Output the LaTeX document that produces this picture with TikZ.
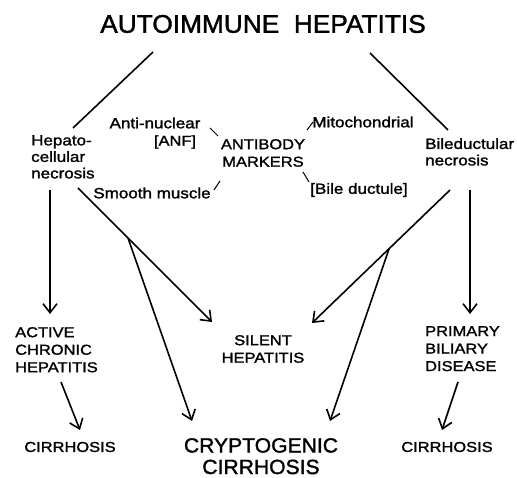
\documentclass[tikz,border=0pt]{standalone}
\usepackage{fontspec}
\setmainfont[FakeStretch=1.15,FakeBold=1.5]{Liberation Sans}
\newfontfamily\bigfont[FakeStretch=1.03,FakeBold=1.5]{Liberation Sans}
\usetikzlibrary{arrows.meta}
\tikzset{
  lbl/.style={font=\fontsize{14.3}{17.5}\selectfont, inner sep=0pt},
  lc/.style={font=\fontsize{14.8}{16.5}\selectfont, inner sep=0pt},
  conn/.style={line width=1.6pt},
  arr/.style={conn, -{Straight Barb[length=9pt,width=14pt,line width=1.6pt]}},
  tickline/.style={line width=1pt}
}
\begin{document}
\begin{tikzpicture}[x=1pt,y=-1pt]
\useasboundingbox (0,0) rectangle (517,478);
% nodes
\node[inner sep=0pt, font=\bigfont\fontsize{25.5}{28}\selectfont] (title) at (263,24) {AUTOIMMUNE\ \ HEPATITIS};
\node[lc, anchor=north west, align=left] (hc) at (31,135) {Hepato-\\cellular\\necrosis};
\node[lc] (ant) at (155,123) {Anti-nuclear};
\node[lbl] (anf) at (175,142) {[ANF]};
\node[lbl, align=center] (ab) at (263,153) {ANTIBODY\\MARKERS};
\node[lc] (mito) at (363,122) {Mitochondrial};
\node[lc] (sm) at (152,193) {Smooth muscle};
\node[lc] (bd) at (359,190) {[Bile ductule]};
\node[lc, anchor=north west, align=left] (bn) at (425,138) {Bileductular\\necrosis};
\node[lbl, anchor=north west, align=left] (ach) at (15,327) {ACTIVE\\CHRONIC\\HEPATITIS};
\node[lbl] (c1) at (70,447) {CIRRHOSIS};
\node[lbl, align=center] (sil) at (263,349) {SILENT\\HEPATITIS};
\node[lbl, anchor=north west, align=left] (pbd) at (425,326) {PRIMARY\\BILIARY\\DISEASE};
\node[lbl] (c2) at (447,447) {CIRRHOSIS};
\node[inner sep=0pt, font=\bigfont\fontsize{20.5}{21.5}\selectfont, align=center, anchor=north] (cc) at (261,438) {CRYPTOGENIC\\CIRRHOSIS};
% coordinates
\coordinate (tL) at (153,52);
\coordinate (hcT) at (73,128);
\coordinate (tR) at (370,53);
\coordinate (bnT) at (448,130);
\coordinate (hcB1) at (50,190);
\coordinate (achT) at (50,314);
\coordinate (hcB2) at (78,188);
\coordinate (silL) at (212,322);
\coordinate (brL) at (128,238);
\coordinate (ccL) at (192,421);
\coordinate (bnB2) at (450,190);
\coordinate (silR) at (312,323);
\coordinate (brR) at (389,249);
\coordinate (ccR) at (330,421);
\coordinate (bnB1) at (470,190);
\coordinate (pbdT) at (470,314);
\coordinate (achB) at (61,382);
\coordinate (c1T) at (80,430);
\coordinate (pbdB) at (458,382);
\coordinate (c2T) at (442,430);
% connectors
\draw[conn] (tL) -- (hcT);
\draw[conn] (tR) -- (bnT);
\draw[arr] (hcB1) -- (achT);
\draw[arr] (hcB2) -- (silL);
\draw[arr] (brL) -- (ccL);
\draw[arr] (bnB2) -- (silR);
\draw[arr] (brR) -- (ccR);
\draw[arr] (bnB1) -- (pbdT);
\draw[arr] (achB) -- (c1T);
\draw[arr] (pbdB) -- (c2T);
% ticks
\coordinate (k1a) at (210,128); \coordinate (k1b) at (218,136);
\coordinate (k2a) at (307,130); \coordinate (k2b) at (313,122);
\coordinate (k3a) at (214,190); \coordinate (k3b) at (220,181);
\coordinate (k4a) at (303,172); \coordinate (k4b) at (309,182);
\draw[tickline] (k1a) -- (k1b);
\draw[tickline] (k2a) -- (k2b);
\draw[tickline] (k3a) -- (k3b);
\draw[tickline] (k4a) -- (k4b);
\end{tikzpicture}
\end{document}
